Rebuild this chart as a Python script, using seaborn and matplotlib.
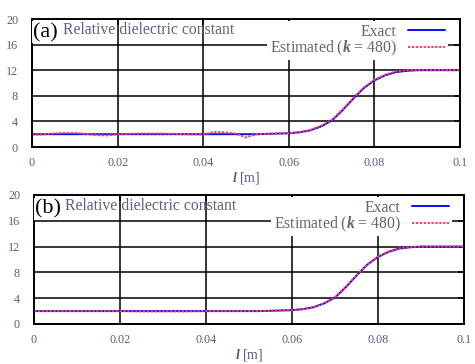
import numpy as np
import pandas as pd
import matplotlib
matplotlib.use("Agg")
import matplotlib.pyplot as plt
import seaborn as sns
from matplotlib.lines import Line2D

# ---------------- data ----------------
position_m = [0, 0.0025, 0.005, 0.0075, 0.01, 0.0125, 0.015, 0.0175, 0.02, 0.025,
              0.03, 0.035, 0.04, 0.0425, 0.045, 0.0475, 0.05, 0.0525, 0.055, 0.06,
              0.0625, 0.065, 0.0675, 0.07, 0.0725, 0.075, 0.0775, 0.08, 0.0825,
              0.085, 0.0875, 0.09, 0.095, 0.1]
exact = [2.0, 2.0, 2.0, 2.0, 2.0, 2.0, 2.0, 2.0, 2.0, 2.0,
         2.0, 2.0, 2.0, 2.0, 2.0, 2.0, 2.0, 2.0, 2.05, 2.15,
         2.3, 2.6, 3.2, 4.1, 5.7, 7.5, 9.2, 10.4, 11.2,
         11.7, 11.9, 12.0, 12.0, 12.0]
estimated_a = [1.9, 1.95, 2.1, 2.2, 2.2, 2.05, 1.85, 1.8, 1.95, 2.1,
               2.1, 2.0, 1.95, 2.35, 2.3, 2.1, 1.5, 2.0, 2.05, 2.15,
               2.3, 2.65, 3.3, 4.2, 5.8, 7.6, 9.3, 10.5, 11.3,
               11.8, 12.0, 12.05, 12.05, 12.0]
estimated_b = [2.0, 2.0, 2.0, 2.0, 2.0, 2.0, 2.0, 2.0, 2.0, 1.95,
               1.95, 1.95, 2.0, 2.0, 2.0, 2.0, 2.0, 2.0, 2.05, 2.15,
               2.3, 2.6, 3.25, 4.15, 5.75, 7.55, 9.25, 10.45, 11.25,
               11.75, 11.95, 12.0, 12.0, 12.0]
panel_labels = ["(a)", "(b)"]
x_ticks = [0, 0.02, 0.04, 0.06, 0.08, 0.1]
x_tick_labels = ["0", "0.02", "0.04", "0.06", "0.08", "0.1"]
y_ticks = [0, 4, 8, 12, 16, 20]
title_text = "Relative dielectric constant"
legend_exact = "Exact"
legend_est = r"Estimated ($k$ = 480)"
xlabel_text = r"$l$ [m]"

# ---------------- style ----------------
sns.set_style("white")
plt.rcParams["font.family"] = ["Liberation Serif", "DejaVu Serif"]
plt.rcParams["mathtext.fontset"] = "custom"
plt.rcParams["mathtext.it"] = "Liberation Serif:italic:bold"
plt.rcParams["mathtext.rm"] = "Liberation Serif"

tick_color = "#52607e"
text_color = "#5c6482"
legend_text_color = "#6a6272"
blue = "#0a0aff"
red = "#ff3a5a"

fig = plt.figure(figsize=(4.75, 3.64), dpi=100)
W, H = 475, 364
boxes = [(32, 19, 460, 147), (34, 195, 464, 324)]
panels = [estimated_a, estimated_b]

for (l, t, r, b), est, plab in zip(boxes, panels, panel_labels):
    ax = fig.add_axes([l / W, 1 - b / H, (r - l) / W, (b - t) / H])
    df = pd.DataFrame({"l": position_m, "exact": exact, "est": est})
    sns.lineplot(data=df, x="l", y="exact", ax=ax, color=blue, linewidth=1.4,
                 zorder=3, legend=False)
    sns.lineplot(data=df, x="l", y="est", ax=ax, color=red, linewidth=1.4,
                 zorder=4, legend=False, dashes=False)
    ax.lines[-1].set_linestyle((0, (1.2, 0.8)))
    ax.set_xlim(0, 0.1)
    ax.set_ylim(0, 20)
    ax.set_xticks(x_ticks)
    ax.set_xticklabels(x_tick_labels)
    ax.set_yticks(y_ticks)
    ax.grid(True, color="black", linewidth=1.1)
    ax.set_axisbelow(True)
    for s in ax.spines.values():
        s.set_color("black")
        s.set_linewidth(1.4)
        s.set_zorder(6)
    ax.tick_params(axis="both", direction="in", length=4, width=1.1,
                   top=True, right=True, labelcolor=tick_color, labelsize=8.7,
                   color="black")
    ax.tick_params(axis="y", pad=10)
    ax.tick_params(axis="x", pad=7)
    ax.set_xlabel(xlabel_text, color=tick_color, fontsize=10, labelpad=1)
    ax.set_ylabel("")

    handles = [Line2D([], [], color=blue, linewidth=1.4),
               Line2D([], [], color=red, linewidth=1.4, linestyle=(0, (1.2, 0.8)))]
    shift = 10.0 / (r - l)
    leg = ax.legend(handles, [legend_exact, legend_est], loc="upper right",
                    bbox_to_anchor=(1.0 - shift, 1.0),
                    markerfirst=False, frameon=True, fancybox=False,
                    framealpha=1.0, facecolor="white", edgecolor="none",
                    fontsize=11.3, handlelength=2.4, handletextpad=0.7,
                    labelspacing=-0.05, borderpad=0.15, borderaxespad=0.15)
    leg.set_zorder(5)
    for txt in leg.get_texts():
        txt.set_color(legend_text_color)

    ax.text(0.072, 0.915, title_text, transform=ax.transAxes, fontsize=11.3,
            color=text_color, va="center", ha="left", zorder=7)
    ax.text(0.002, 0.895, plab, transform=ax.transAxes, fontsize=16,
            color="black", va="center", ha="left", zorder=8,
            bbox=dict(facecolor="white", edgecolor="none", pad=1.0))

fig.savefig("out.png", dpi=100)
